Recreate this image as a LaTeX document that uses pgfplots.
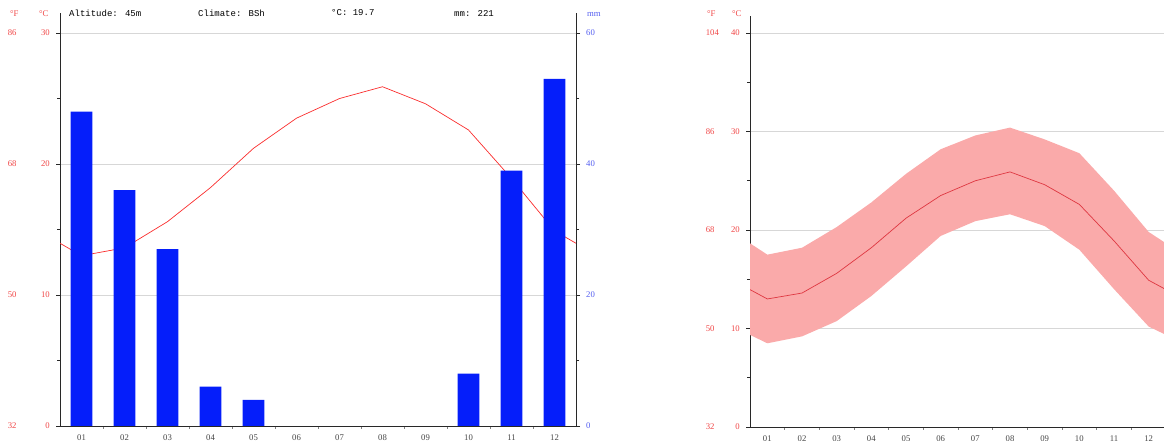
\documentclass[border=0pt]{standalone}
\usepackage{pgfplots}
\pgfplotsset{compat=1.18}
\usepackage{fontspec}
\setmainfont{Liberation Serif}
\newfontfamily\hdrfont{Liberation Mono}
\definecolor{barblue}{RGB}{5,30,250}
\definecolor{tline}{RGB}{250,45,45}
\definecolor{mline}{RGB}{222,55,65}
\definecolor{bandc}{RGB}{250,170,170}
\definecolor{redlab}{RGB}{240,70,70}
\definecolor{bluelab}{RGB}{85,95,240}
\definecolor{monthlab}{RGB}{70,70,70}
\definecolor{spine}{RGB}{40,40,40}
\definecolor{gridc}{RGB}{215,215,215}

\pgfplotstableread{
m   t
0.5 13.95
1   13.0
2   13.6
3   15.6
4   18.2
5   21.2
6   23.5
7   25.0
8   25.9
9   24.6
10  22.6
11  18.9
12  14.9
12.5 13.95
}\temps

% band outline: upper (max) forward, then lower (min) backward
\pgfplotstableread{
m    v
0.5  18.65
1    17.5
2    18.2
3    20.3
4    22.8
5    25.7
6    28.2
7    29.6
8    30.4
9    29.2
10   27.8
11   24.0
12   19.8
12.5 18.65
12.5 9.35
12   10.2
11   14.0
10   18.0
9    20.4
8    21.6
7    20.9
6    19.4
5    16.3
4    13.3
3    10.75
2    9.2
1    8.5
0.5  9.35
}\band

% precipitation (mm); June-September are 0 and draw no bar
\pgfplotstableread{
m  mm
1  48
2  36
3  27
4  6
5  4
10 8
11 39
12 53
}\prec

\begin{document}
\begin{tikzpicture}
\useasboundingbox (0pt,0pt) rectangle (1164pt,441pt);
\pgfplotsset{
  base/.style={
    scale only axis, anchor=south west,
    xmin=0.5, xmax=12.5,
    font=\fontsize{8.7}{10}\selectfont,
    /pgf/number format/assume math mode=true,
    axis line style={draw=spine, line width=0.7pt},
    tick style={draw=spine, line width=0.6pt},
    major tick length=4pt, minor tick length=3pt,
    tick align=outside,
  },
  months/.style={
    axis x line*=bottom,
    xtick={1,...,12},
    xticklabels={01,02,03,04,05,06,07,08,09,10,11,12},
    major x tick style={draw=none},
    minor xtick={1.5,2.5,...,11.5},
    minor x tick style={draw=gray},
    xticklabel style={text=monthlab, yshift=-1pt},
  },
  grid style={draw=gridc, line width=0.8pt},
}

% ---------- left chart: temperature ----------
\begin{axis}[base, months,
  at={(60pt,15pt)}, width=516pt, height=413pt,
  ymin=0, ymax=31.53,
  axis y line*=left,
  ytick={0,10,20,30}, minor ytick={5,15,25},
  ymajorgrids,
  yticklabel style={anchor=east, inner sep=0pt, xshift=-6pt, text=redlab},
  yticklabel={\pgfmathsetmacro\F{\tick*1.8+32}\makebox[24pt][l]{\pgfmathprintnumber[fixed,precision=0]{\F}}\makebox[18pt][r]{\pgfmathprintnumber[fixed,precision=0]{\tick}}},
]
\addplot[tline, line width=0.7pt] table[x=m, y=t] {\temps};
\end{axis}

% ---------- left chart: precipitation ----------
\begin{axis}[base,
  at={(60pt,15pt)}, width=516pt, height=413pt,
  ymin=0, ymax=63.06,
  axis x line*=bottom, xtick=\empty,
  axis y line*=right,
  ytick={0,20,40,60}, minor ytick={10,30,50},
  yticklabel style={anchor=west, inner sep=0pt, xshift=6pt, text=bluelab},
  axis on top,
]
\addplot[ybar, bar width=0.51, fill=barblue, draw=none] table[x=m, y=mm] {\prec};
\end{axis}

\node[anchor=west, text=redlab, font=\fontsize{8.7}{10}\selectfont, inner sep=0pt] at (10pt,427pt) {°F};
\node[anchor=west, text=redlab, font=\fontsize{8.7}{10}\selectfont, inner sep=0pt] at (39pt,427pt) {°C};
\node[anchor=west, text=bluelab, font=\fontsize{8.7}{10}\selectfont, inner sep=0pt] at (587pt,427pt) {mm};
\node[anchor=west, font=\hdrfont\fontsize{9}{10}\selectfont, inner sep=0pt] at (69pt,428pt) {Altitude: 45m};
\node[anchor=west, font=\hdrfont\fontsize{9}{10}\selectfont, inner sep=0pt] at (198pt,428pt) {Climate: BSh};
\node[anchor=west, font=\hdrfont\fontsize{9}{10}\selectfont, inner sep=0pt] at (331pt,428pt) {°C: 19.7};
\node[anchor=west, font=\hdrfont\fontsize{9}{10}\selectfont, inner sep=0pt] at (454pt,428pt) {mm: 221};

% ---------- right chart: temperature band ----------
\begin{axis}[base, months,
  at={(750pt,14pt)}, width=416pt, height=411pt,
  ymin=0, ymax=41.73,
  axis y line*=left,
  ytick={0,10,20,30,40}, minor ytick={5,15,25,35},
  ymajorgrids,
  yticklabel style={anchor=east, inner sep=0pt, xshift=-6pt, text=redlab},
  yticklabel={\pgfmathsetmacro\F{\tick*1.8+32}\makebox[20pt][l]{\pgfmathprintnumber[fixed,precision=0]{\F}}\makebox[14pt][r]{\pgfmathprintnumber[fixed,precision=0]{\tick}}},
]
\addplot[fill=bandc, draw=none] table[x=m, y=v] {\band};
\addplot[mline, line width=0.7pt] table[x=m, y=t] {\temps};
\end{axis}

\node[anchor=west, text=redlab, font=\fontsize{8.7}{10}\selectfont, inner sep=0pt] at (707pt,427pt) {°F};
\node[anchor=west, text=redlab, font=\fontsize{8.7}{10}\selectfont, inner sep=0pt] at (732pt,427pt) {°C};
\end{tikzpicture}
\end{document}
